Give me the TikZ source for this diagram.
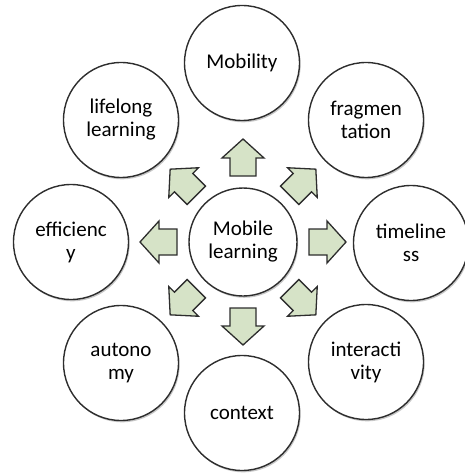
\documentclass[tikz,border=0pt]{standalone}
\usepackage{fontspec}
\setmainfont{Carlito}
\usetikzlibrary{shadows}
\definecolor{arrowgreen}{RGB}{214,227,199}
\definecolor{edgegray}{RGB}{45,45,45}
\begin{document}
\begin{tikzpicture}[x=1pt,y=-1pt,
  bubble/.style={circle, draw=edgegray, line width=1.4pt, fill=white,
    minimum size=115pt, inner sep=0pt, align=center,
    font=\fontsize{21}{23}\selectfont,
    drop shadow={shadow xshift=1.2pt, shadow yshift=-1.8pt, opacity=0.22, fill=black}},
  blockarrow/.style={draw=edgegray, line width=1.3pt, fill=arrowgreen, line join=miter}]
\useasboundingbox (0,0) rectangle (464,473);
\node[bubble, minimum size=108pt] (c) at (243,242) {Mobile\\learning};
\node[bubble] (m) at (242,63) {Mobility};
\node[bubble] (f) at (366,120) {fragmen\\tation};
\node[bubble] (t) at (411,243) {timeline\\ss};
\node[bubble] (i) at (366,362) {interacti\\vity};
\node[bubble] (x) at (242,413) {context};
\node[bubble] (a) at (121,363) {autono\\my};
\node[bubble] (e) at (71,242) {efficienc\\y};
\node[bubble] (l) at (121,120) {lifelong\\learning};
\foreach \ang in {90,45,0,-45,-90,-135,180,135}{
  \begin{scope}[shift={(c.center)}, rotate=\ang]
    \draw[blockarrow] (66,-13) -- (84,-13) -- (84,-21) -- (103,0) -- (84,21) -- (84,13) -- (66,13) -- cycle;
  \end{scope}
}
\end{tikzpicture}
\end{document}
